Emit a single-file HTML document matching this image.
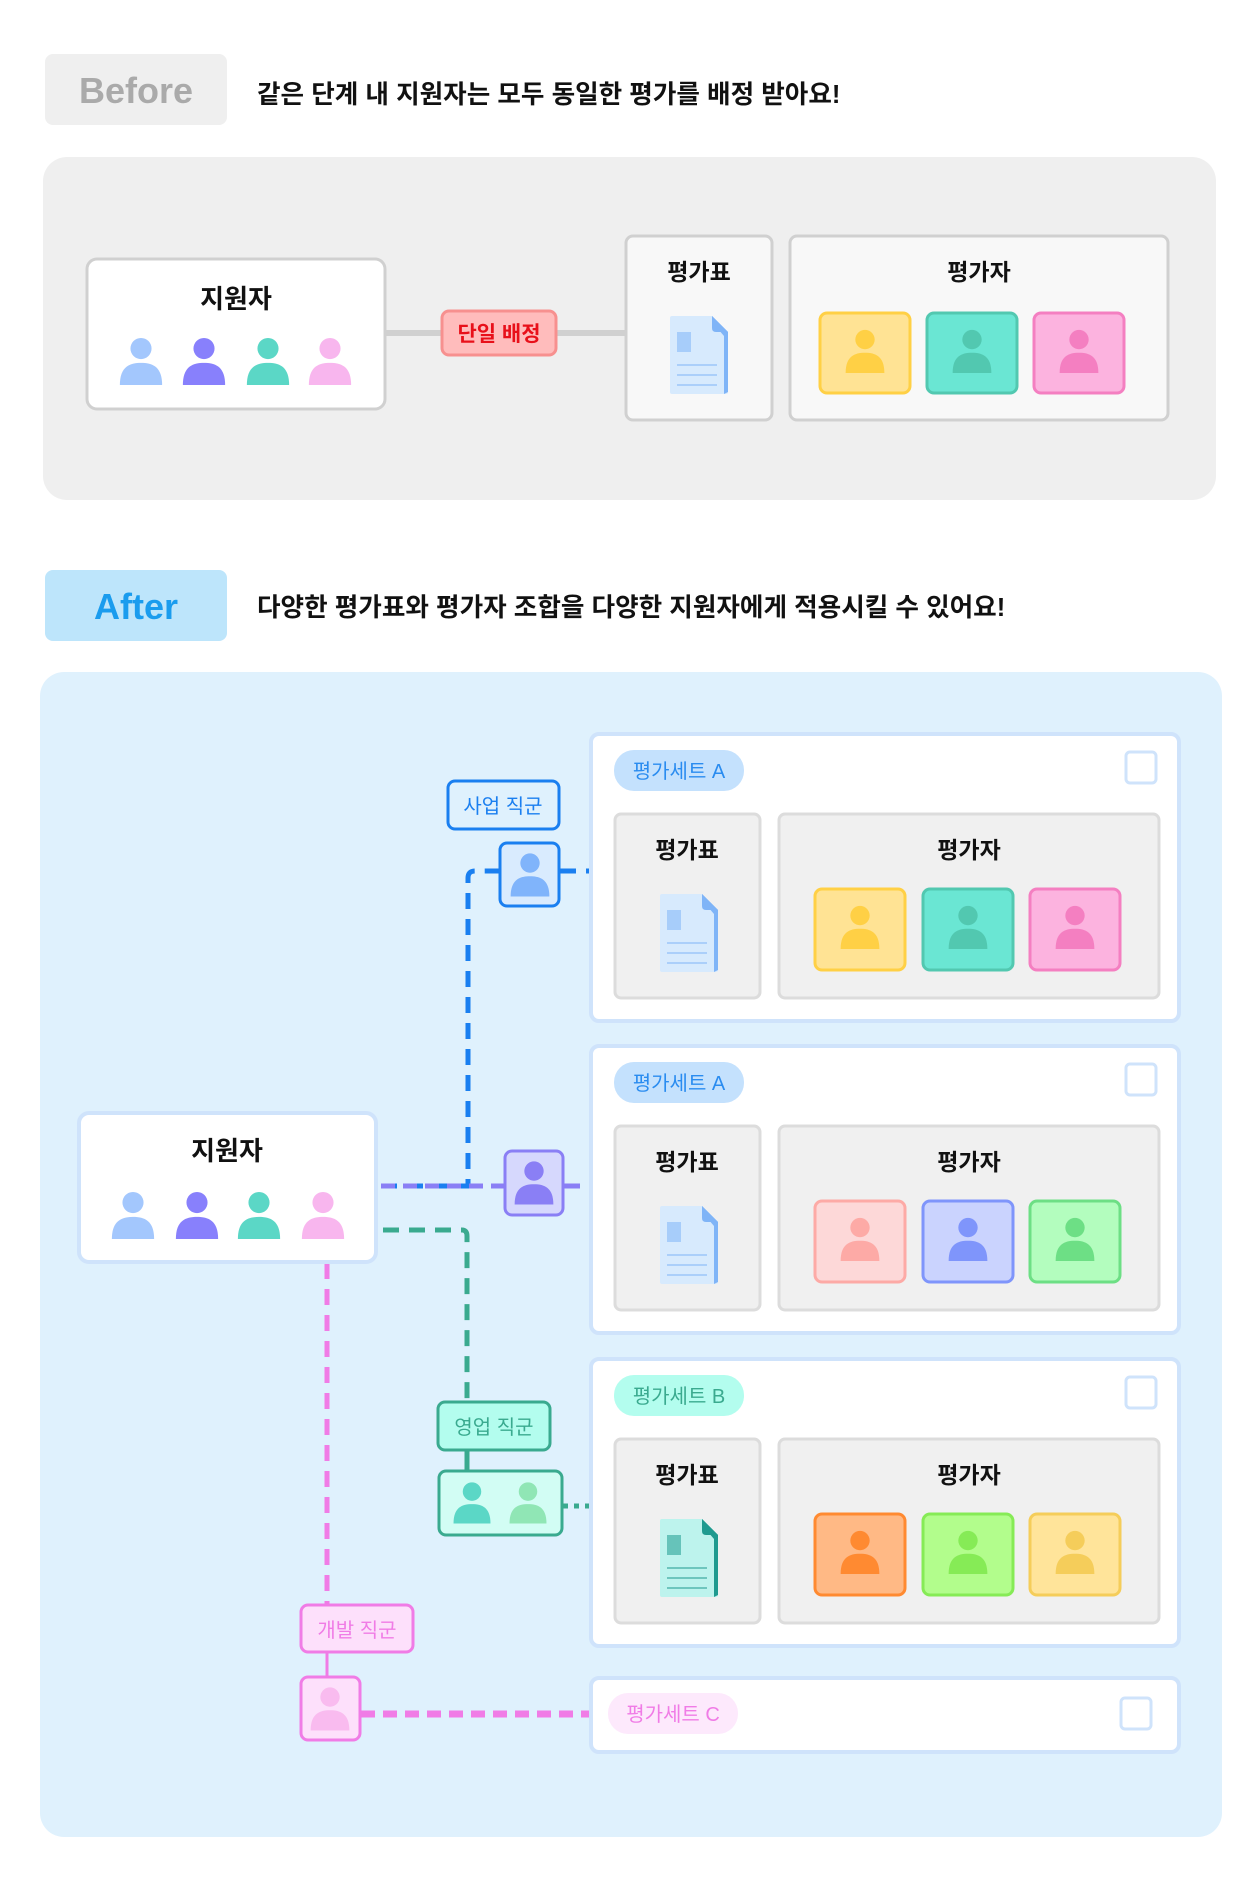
<!DOCTYPE html>
<html><head><meta charset="utf-8"><style>
html,body{margin:0;padding:0;background:#fff;width:1260px;height:1890px;overflow:hidden}
svg{display:block}
text{font-family:"Liberation Sans","Noto Sans CJK KR",sans-serif}
</style></head><body>
<svg width="1260" height="1890" viewBox="0 0 1260 1890" xmlns="http://www.w3.org/2000/svg">
<defs>
<symbol id="p" viewBox="0 0 50 50"><circle cx="25" cy="12" r="11"/><path d="M3 50 C3 31 13 27 25 27 C37 27 47 31 47 50 Z"/></symbol>
<symbol id="doc" viewBox="0 0 62 82"><path d="M4 2 H44 L60 18 V78 Q60 80 58 80 H4 Q2 80 2 78 V4 Q2 2 4 2Z" fill="var(--b)"/><path d="M44 2 L60 18 V78 L56 80 V22 L44 8Z" fill="var(--f)"/><path d="M44 2 L60 18 H48 Q44 18 44 14Z" fill="var(--f)"/><rect x="9" y="18" width="14" height="20" fill="var(--f)" opacity=".55"/><rect x="9" y="50" width="40" height="2" fill="var(--f)" opacity=".5"/><rect x="9" y="60" width="40" height="2" fill="var(--f)" opacity=".5"/><rect x="9" y="70" width="40" height="2" fill="var(--f)" opacity=".5"/></symbol>
</defs>

<!-- BEFORE -->
<rect x="45" y="54" width="182" height="71" rx="8" fill="#efefef"/>
<text x="136" y="103" font-size="36" font-weight="bold" fill="#aaaaaa" text-anchor="middle">Before</text>
<text x="257" y="103" font-size="25.6" font-weight="bold" fill="#111">같은 단계 내 지원자는 모두 동일한 평가를 배정 받아요!</text>
<rect x="43" y="157" width="1173" height="343" rx="24" fill="#efefef"/>
<rect x="386" y="330" width="240" height="6" fill="#d0d0d0"/>
<rect x="87" y="259" width="298" height="150" rx="10" fill="#fff" stroke="#d0d0d0" stroke-width="3"/>
<text x="236" y="308" font-size="26" font-weight="bold" fill="#111" text-anchor="middle">지원자</text>
<use href="#p" x="117" y="336" width="48" height="50" fill="#a3c7fd"/>
<use href="#p" x="180" y="336" width="48" height="50" fill="#8880fc"/>
<use href="#p" x="244" y="336" width="48" height="50" fill="#5bd7c6"/>
<use href="#p" x="306" y="336" width="48" height="50" fill="#f8b6ee"/>
<rect x="442" y="311" width="114" height="44" rx="7" fill="#ffbcbc" stroke="#f7908f" stroke-width="3"/>
<text x="499" y="341" font-size="21" font-weight="bold" fill="#e8101a" text-anchor="middle">단일 배정</text>
<rect x="626" y="236" width="146" height="184" rx="7" fill="#f8f8f8" stroke="#d0d0d0" stroke-width="3"/>
<text x="699" y="280" font-size="23" font-weight="bold" fill="#111" text-anchor="middle">평가표</text>
<use href="#doc" x="668" y="314" width="62" height="82" style="--b:#d7eafd;--f:#7fb4f7"/>
<rect x="790" y="236" width="378" height="184" rx="7" fill="#f8f8f8" stroke="#d0d0d0" stroke-width="3"/>
<text x="979" y="280" font-size="23" font-weight="bold" fill="#111" text-anchor="middle">평가자</text>
<rect x="820" y="313" width="90" height="80" rx="7" fill="#ffe394" stroke="#ffd045" stroke-width="3"/>
<use href="#p" x="843" y="326" width="44" height="50" fill="#ffd045"/>
<rect x="927" y="313" width="90" height="80" rx="7" fill="#6ae6d3" stroke="#52c8b0" stroke-width="3"/>
<use href="#p" x="950" y="326" width="44" height="50" fill="#52c8b0"/>
<rect x="1034" y="313" width="90" height="80" rx="7" fill="#fcb3df" stroke="#f47fc1" stroke-width="3"/>
<use href="#p" x="1057" y="326" width="44" height="50" fill="#f47fc1"/>

<!-- AFTER -->
<rect x="45" y="570" width="182" height="71" rx="8" fill="#bde5fb"/>
<text x="136" y="619" font-size="36" font-weight="bold" fill="#1a9cee" text-anchor="middle">After</text>
<text x="257" y="616" font-size="25.6" font-weight="bold" fill="#111">다양한 평가표와 평가자 조합을 다양한 지원자에게 적용시킬 수 있어요!</text>
<rect x="40" y="672" width="1182" height="1165" rx="24" fill="#dff1fd"/>

<!-- connectors -->
<g fill="none" stroke-width="5" stroke-dasharray="16 10">
<path d="M381 1186 H468 V878 Q468 871 475 871 H499" stroke="#1a7ff0"/>
<path d="M560 871 H590" stroke="#1a7ff0"/>
<path d="M381 1186 H504" stroke="#8a7ff5" stroke-dasharray="14 8"/>
<path d="M564 1186 H590" stroke="#8a7ff5"/>
<path d="M383 1230 H462 Q467 1230 467 1236 V1401" stroke="#3aaa8f"/>
<path d="M467 1451 V1470" stroke="#3aaa8f" stroke-dasharray="none"/>
<path d="M563 1506 H590" stroke="#3aaa8f" stroke-dasharray="5 6"/>
<path d="M327 1263 V1604" stroke="#f07ce6"/>
<path d="M327 1653 V1676" stroke="#f07ce6" stroke-dasharray="none" stroke-width="3"/>
<path d="M361 1714 H590" stroke="#f07ce6" stroke-dasharray="14 8" stroke-width="7"/>
</g>

<!-- applicant box -->
<rect x="79" y="1113" width="297" height="149" rx="10" fill="#fff" stroke="#cfe3fb" stroke-width="4"/>
<text x="227" y="1160" font-size="26" font-weight="bold" fill="#111" text-anchor="middle">지원자</text>
<use href="#p" x="109" y="1190" width="48" height="50" fill="#a3c7fd"/>
<use href="#p" x="173" y="1190" width="48" height="50" fill="#8880fc"/>
<use href="#p" x="235" y="1190" width="48" height="50" fill="#5bd7c6"/>
<use href="#p" x="299" y="1190" width="48" height="50" fill="#f8b6ee"/>

<!-- group labels & icons -->
<rect x="448" y="781" width="111" height="48" rx="7" fill="#dff1fd" stroke="#1a7ff0" stroke-width="3"/>
<text x="503" y="813" font-size="20" fill="#1a7ff0" text-anchor="middle">사업 직군</text>
<rect x="500" y="843" width="59" height="63" rx="7" fill="#d9ebfe" stroke="#1a7ff0" stroke-width="3"/>
<use href="#p" x="508" y="852" width="44" height="45" fill="#80b4fb"/>
<rect x="505" y="1151" width="58" height="64" rx="7" fill="#d6d8fd" stroke="#8a7ff5" stroke-width="3"/>
<use href="#p" x="512" y="1160" width="44" height="45" fill="#8a7ff5"/>
<rect x="438" y="1402" width="112" height="48" rx="7" fill="#b3fdee" stroke="#3aaa8f" stroke-width="3"/>
<text x="494" y="1434" font-size="20" fill="#3aaa8f" text-anchor="middle">영업 직군</text>
<rect x="439" y="1471" width="123" height="64" rx="7" fill="#d2fdf4" stroke="#3aaa8f" stroke-width="3"/>
<use href="#p" x="451" y="1480" width="42" height="45" fill="#5bd7c6"/>
<use href="#p" x="507" y="1480" width="42" height="45" fill="#90e6b5"/>
<rect x="301" y="1605" width="112" height="47" rx="7" fill="#fde0fb" stroke="#f07ce6" stroke-width="3"/>
<text x="357" y="1637" font-size="20" fill="#f07ce6" text-anchor="middle">개발 직군</text>
<rect x="301" y="1677" width="59" height="63" rx="7" fill="#fde0fb" stroke="#f07ce6" stroke-width="3"/>
<use href="#p" x="308" y="1686" width="44" height="45" fill="#f9bbef"/>

<!-- SET 1 -->
<g transform="translate(589,732)">
<rect x="2" y="2" width="588" height="287" rx="8" fill="#fff" stroke="#cfe3fb" stroke-width="4"/>
<rect x="25" y="18" width="130" height="41" rx="20" fill="#c4e1fd"/>
<text x="90" y="46" font-size="20" fill="#2a8cf0" text-anchor="middle">평가세트 A</text>
<rect x="537" y="20" width="30" height="31" rx="4" fill="#fff" stroke="#cfe3fb" stroke-width="3"/>
<rect x="26" y="82" width="145" height="184" rx="6" fill="#f0f0f0" stroke="#dcdcdc" stroke-width="3"/>
<text x="98" y="126" font-size="23" font-weight="bold" fill="#111" text-anchor="middle">평가표</text>
<use href="#doc" x="69" y="160" width="62" height="82" style="--b:#d7eafd;--f:#7fb4f7"/>
<rect x="190" y="82" width="380" height="184" rx="6" fill="#f0f0f0" stroke="#dcdcdc" stroke-width="3"/>
<text x="380" y="126" font-size="23" font-weight="bold" fill="#111" text-anchor="middle">평가자</text>
<rect x="226" y="157" width="90" height="81" rx="7" fill="#ffe394" stroke="#ffd045" stroke-width="3"/>
<use href="#p" x="249" y="170" width="44" height="50" fill="#ffd045"/>
<rect x="334" y="157" width="90" height="81" rx="7" fill="#6ae6d3" stroke="#52c8b0" stroke-width="3"/>
<use href="#p" x="357" y="170" width="44" height="50" fill="#52c8b0"/>
<rect x="441" y="157" width="90" height="81" rx="7" fill="#fcb3df" stroke="#f47fc1" stroke-width="3"/>
<use href="#p" x="464" y="170" width="44" height="50" fill="#f47fc1"/>
</g>

<!-- SET 2 -->
<g transform="translate(589,1044)">
<rect x="2" y="2" width="588" height="287" rx="8" fill="#fff" stroke="#cfe3fb" stroke-width="4"/>
<rect x="25" y="18" width="130" height="41" rx="20" fill="#c4e1fd"/>
<text x="90" y="46" font-size="20" fill="#2a8cf0" text-anchor="middle">평가세트 A</text>
<rect x="537" y="20" width="30" height="31" rx="4" fill="#fff" stroke="#cfe3fb" stroke-width="3"/>
<rect x="26" y="82" width="145" height="184" rx="6" fill="#f0f0f0" stroke="#dcdcdc" stroke-width="3"/>
<text x="98" y="126" font-size="23" font-weight="bold" fill="#111" text-anchor="middle">평가표</text>
<use href="#doc" x="69" y="160" width="62" height="82" style="--b:#d7eafd;--f:#7fb4f7"/>
<rect x="190" y="82" width="380" height="184" rx="6" fill="#f0f0f0" stroke="#dcdcdc" stroke-width="3"/>
<text x="380" y="126" font-size="23" font-weight="bold" fill="#111" text-anchor="middle">평가자</text>
<rect x="226" y="157" width="90" height="81" rx="7" fill="#fdd8d8" stroke="#fdaaa6" stroke-width="3"/>
<use href="#p" x="249" y="170" width="44" height="50" fill="#fdaaa6"/>
<rect x="334" y="157" width="90" height="81" rx="7" fill="#cad3fe" stroke="#7f95fb" stroke-width="3"/>
<use href="#p" x="357" y="170" width="44" height="50" fill="#7f95fb"/>
<rect x="441" y="157" width="90" height="81" rx="7" fill="#b3fdbe" stroke="#6ddf85" stroke-width="3"/>
<use href="#p" x="464" y="170" width="44" height="50" fill="#6ddf85"/>
</g>

<!-- SET 3 -->
<g transform="translate(589,1357)">
<rect x="2" y="2" width="588" height="287" rx="8" fill="#fff" stroke="#cfe3fb" stroke-width="4"/>
<rect x="25" y="18" width="130" height="41" rx="20" fill="#b3fdee"/>
<text x="90" y="46" font-size="20" fill="#3aaa8f" text-anchor="middle">평가세트 B</text>
<rect x="537" y="20" width="30" height="31" rx="4" fill="#fff" stroke="#cfe3fb" stroke-width="3"/>
<rect x="26" y="82" width="145" height="184" rx="6" fill="#f0f0f0" stroke="#dcdcdc" stroke-width="3"/>
<text x="98" y="126" font-size="23" font-weight="bold" fill="#111" text-anchor="middle">평가표</text>
<use href="#doc" x="69" y="160" width="62" height="82" style="--b:#bdf3ed;--f:#1f9a8f"/>
<rect x="190" y="82" width="380" height="184" rx="6" fill="#f0f0f0" stroke="#dcdcdc" stroke-width="3"/>
<text x="380" y="126" font-size="23" font-weight="bold" fill="#111" text-anchor="middle">평가자</text>
<rect x="226" y="157" width="90" height="81" rx="7" fill="#ffb985" stroke="#ff8a31" stroke-width="3"/>
<use href="#p" x="249" y="170" width="44" height="50" fill="#ff8a31"/>
<rect x="334" y="157" width="90" height="81" rx="7" fill="#b2fd8c" stroke="#86eb56" stroke-width="3"/>
<use href="#p" x="357" y="170" width="44" height="50" fill="#86eb56"/>
<rect x="441" y="157" width="90" height="81" rx="7" fill="#ffe49a" stroke="#f5cd5a" stroke-width="3"/>
<use href="#p" x="464" y="170" width="44" height="50" fill="#f5cd5a"/>
</g>

<!-- SET 4 -->
<g transform="translate(589,1676)">
<rect x="2" y="2" width="588" height="74" rx="8" fill="#fff" stroke="#cfe3fb" stroke-width="4"/>
<rect x="19" y="17" width="130" height="41" rx="20" fill="#fde9fc"/>
<text x="84" y="45" font-size="20" fill="#f07ce6" text-anchor="middle">평가세트 C</text>
<rect x="532" y="22" width="30" height="31" rx="4" fill="#fff" stroke="#cfe3fb" stroke-width="3"/>
</g>
</svg>
</body></html>
